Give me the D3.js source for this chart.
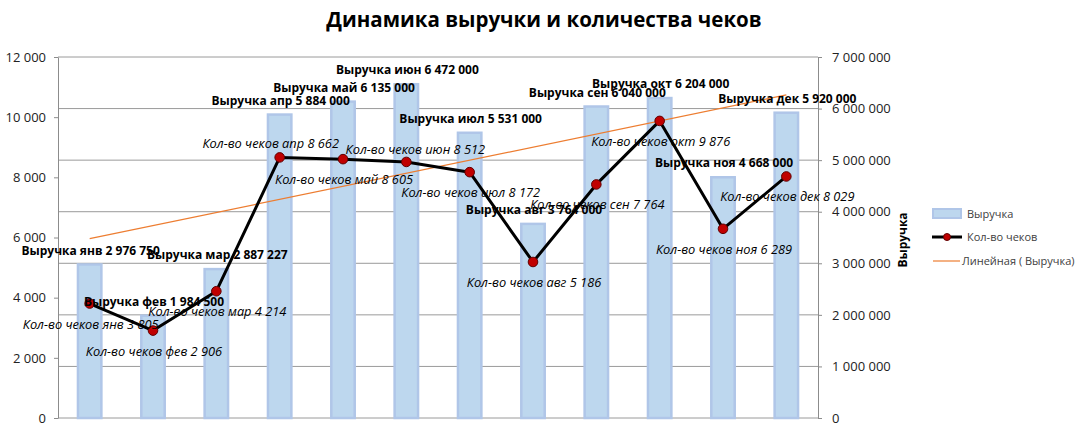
<!DOCTYPE html>
<html><head><meta charset="utf-8">
<script src="https://cdn.jsdelivr.net/npm/d3@7"></script>
<style>body{margin:0;background:#fff}svg{font-family:"Open Sans",sans-serif;display:block}</style>
</head><body>
<svg id="c" width="1089" height="434"></svg>
<script>
const months = ["янв","фев","мар","апр","май","июн","июл","авг","сен","окт","ноя","дек"];
const revenue = [2976750,1984500,2887227,5884000,6135000,6472000,5531000,3764000,6040000,6204000,4668000,5920000];
const checks = [3805,2906,4214,8662,8605,8512,8172,5186,7764,9876,6289,8029];
const leftTicks = [0,2000,4000,6000,8000,10000,12000];
const rightTicks = [0,1000000,2000000,3000000,4000000,5000000,6000000,7000000];
const title = "Динамика выручки и количества чеков";
const seriesNames = ["Выручка","Кол-во чеков","Линейная ( Выручка)"];

const svg = d3.select("#c");
const L=58, R=818, T=57, B=418;
const loc = d3.formatLocale({decimal:",",thousands:" ",grouping:[3],currency:["",""]});
const fmt = loc.format(",d");

const x = d3.scaleBand().domain(months).range([L,R]).paddingInner(0.63).paddingOuter(0.315);
const cx = m => x(m) + x.bandwidth()/2;
const yL = d3.scaleLinear().domain([0,12000]).range([B,T]);
const yR = d3.scaleLinear().domain([0,7000000]).range([B,T]);

// gridlines (right axis)
svg.append("g").selectAll("line").data(rightTicks).join("line")
  .attr("x1",L).attr("x2",R).attr("y1",d=>yR(d)).attr("y2",d=>yR(d))
  .attr("stroke","#9a9a9a").attr("stroke-width",1);

// axes
const ga = svg.append("g").attr("transform",`translate(${L},0)`)
  .call(d3.axisLeft(yL).tickValues(leftTicks).tickFormat(fmt).tickSize(4).tickSizeOuter(0).tickPadding(8));
const gb = svg.append("g").attr("transform",`translate(${R},0)`)
  .call(d3.axisRight(yR).tickValues(rightTicks).tickFormat(fmt).tickSize(4).tickSizeOuter(0).tickPadding(10));
[ga,gb].forEach(g=>{
  g.select(".domain").attr("stroke","#8c8c8c");
  g.selectAll(".tick line").attr("stroke","#8c8c8c");
  g.selectAll(".tick text").attr("fill","#222").style("font-size","13px").style("font-family","Open Sans, sans-serif");
});

// bars
svg.append("g").selectAll("rect").data(months).join("rect")
  .attr("x",m=>x(m)).attr("width",x.bandwidth())
  .attr("y",(m,i)=>yR(revenue[i])).attr("height",(m,i)=>B-yR(revenue[i]))
  .attr("fill","#BDD7EE").attr("stroke","#B0C6E8").attr("stroke-width",2.5);

// trend line (least squares on revenue)
const n = revenue.length;
const xs = d3.range(1,n+1);
const mx = d3.mean(xs), my = d3.mean(revenue);
const slope = d3.sum(xs,(xi,i)=>(xi-mx)*(revenue[i]-my))/d3.sum(xs,xi=>(xi-mx)*(xi-mx));
const icpt = my - slope*mx;
svg.append("line")
  .attr("x1",cx(months[0])).attr("x2",cx(months[n-1]))
  .attr("y1",yR(icpt+slope*1)).attr("y2",yR(icpt+slope*n))
  .attr("stroke","#ED7D31").attr("stroke-width",1.2);

// checks line
const line = d3.line().x((d,i)=>cx(months[i])).y(d=>yL(d));
svg.append("path").datum(checks).attr("d",line)
  .attr("fill","none").attr("stroke","#000").attr("stroke-width",3).attr("stroke-linejoin","round");
svg.append("g").selectAll("circle").data(checks).join("circle")
  .attr("cx",(d,i)=>cx(months[i])).attr("cy",d=>yL(d)).attr("r",4.8)
  .attr("fill","#C00000").attr("stroke","#600000").attr("stroke-width",1);

// bar labels
svg.append("g").selectAll("text").data(months).join("text")
  .attr("x",m=>cx(m)+1).attr("y",(m,i)=>yR(revenue[i])-14).attr("dy","0.35em")
  .attr("text-anchor","middle").style("font-size","12px").style("font-weight","bold")
  .text((m,i)=>`${seriesNames[0]} ${m} ${fmt(revenue[i])}`);

// check labels
const above = {"апр":[-10,-14],"июн":[8,-12]};
svg.append("g").selectAll("text").data(months).join("text")
  .attr("x",m=>cx(m)+1+(above[m]?above[m][0]:0))
  .attr("y",(m,i)=>yL(checks[i])+(above[m]?above[m][1]:20.5)).attr("dy","0.35em")
  .attr("text-anchor","middle").style("font-size","12.8px").style("font-style","italic")
  .text((m,i)=>`${seriesNames[1]} ${m} ${fmt(checks[i])}`);

// title
svg.append("text").attr("x",544).attr("y",27).attr("text-anchor","middle")
  .style("font-size","20.5px").style("font-weight","bold").text(title);

// right axis title
svg.append("text").attr("transform","translate(907,240) rotate(-90)").attr("text-anchor","middle")
  .style("font-size","12px").style("font-weight","bold").text(seriesNames[0]);

// legend
const lg = svg.append("g").style("font-size","11px").attr("fill","#404040");
lg.append("rect").attr("x",933).attr("y",209).attr("width",28).attr("height",9)
  .attr("fill","#BDD7EE").attr("stroke","#B0C6E8").attr("stroke-width",2);
lg.append("text").attr("x",967).attr("y",214).attr("dy","0.35em").text(seriesNames[0]);
lg.append("line").attr("x1",932).attr("x2",962).attr("y1",237).attr("y2",237).attr("stroke","#000").attr("stroke-width",3);
lg.append("circle").attr("cx",947).attr("cy",237).attr("r",3.5).attr("fill","#C00000").attr("stroke","#600000");
lg.append("text").attr("x",967).attr("y",237).attr("dy","0.35em").text(seriesNames[1]);
lg.append("line").attr("x1",933).attr("x2",960).attr("y1",261).attr("y2",261).attr("stroke","#ED7D31").attr("stroke-width",1.2);
lg.append("text").attr("x",962).attr("y",261).attr("dy","0.35em").text(seriesNames[2]);
</script></body></html>
